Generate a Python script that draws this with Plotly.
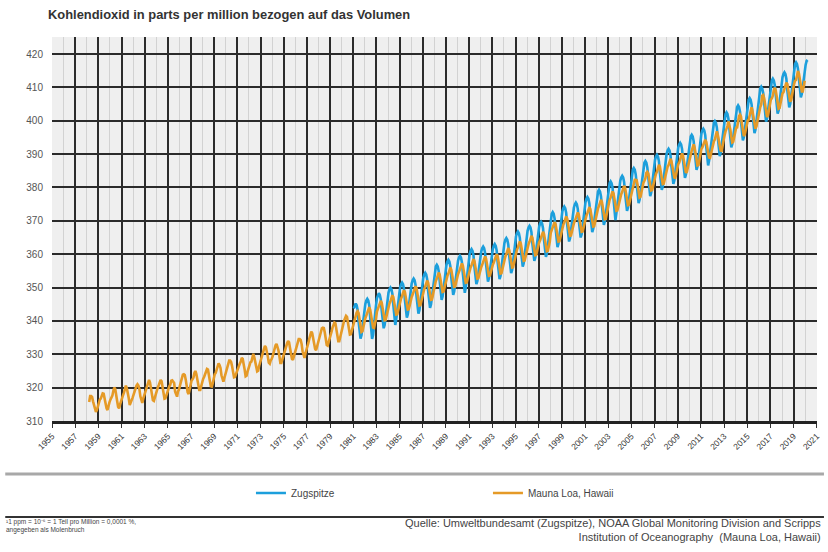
import plotly.graph_objects as go

# ---------------- data ----------------
x_tick_years = list(range(1955, 2022, 2))
y_ticks = list(range(310, 421, 10))

series_names = ["Zugspitze", "Mauna Loa, Hawaii"]

# Mauna Loa monthly means, ppm, first value = March 1958
mauna_loa_start = (1958, 3)
mauna_loa_ppm = [
    315.7, 317.5, 317.5, 317.2, 315.9, 314.9, 313.2, 312.7, 313.3, 314.7,
    315.6, 316.4, 316.7, 317.7, 318.3, 318.2, 316.5, 314.8, 313.8, 313.3, 314.8, 315.6,
    316.4, 317.0, 317.6, 319.0, 320.0, 319.6, 318.2, 315.9, 314.2, 313.8, 315.0, 316.2,
    316.9, 317.7, 318.5, 319.5, 320.6, 319.8, 318.6, 316.8, 314.8, 315.4, 316.1, 317.0,
    317.9, 318.6, 319.7, 320.6, 321.0, 320.6, 319.6, 317.4, 316.3, 315.4, 316.7, 317.7,
    318.7, 319.1, 319.9, 321.4, 322.3, 321.5, 319.7, 317.8, 316.2, 316.0, 317.1, 318.4,
    319.6, 320.0, 320.7, 321.8, 322.3, 321.9, 320.4, 318.7, 316.7, 316.8, 317.8, 318.7,
    319.4, 320.4, 320.9, 322.1, 322.2, 321.9, 321.4, 318.8, 317.8, 317.3, 318.9, 319.4,
    320.6, 321.6, 322.4, 323.9, 324.0, 323.8, 322.4, 320.4, 318.6, 318.1, 319.8, 321.1,
    322.1, 322.5, 323.0, 324.4, 325.0, 324.1, 322.6, 320.9, 319.3, 319.3, 320.7, 322.0,
    322.6, 323.2, 323.9, 325.0, 325.6, 325.4, 324.1, 322.0, 320.4, 320.3, 321.3, 322.8,
    324.0, 324.4, 325.6, 326.7, 327.3, 326.8, 325.9, 323.7, 322.4, 321.8, 322.9, 324.1,
    325.0, 326.0, 326.9, 328.1, 328.1, 327.7, 326.4, 324.7, 323.1, 323.2, 324.0, 325.1,
    326.2, 326.7, 327.2, 327.8, 328.9, 328.6, 327.4, 325.4, 323.4, 323.6, 324.8, 326.0,
    326.8, 327.6, 327.8, 329.7, 330.1, 329.1, 328.1, 326.3, 324.9, 325.1, 326.5, 327.6,
    328.5, 329.6, 330.3, 331.5, 332.5, 332.1, 330.9, 329.3, 327.5, 327.2, 328.2, 328.6,
    329.4, 330.7, 331.5, 332.7, 333.1, 332.3, 331.2, 329.4, 327.4, 327.4, 328.5, 329.6,
    330.4, 331.4, 332.0, 333.3, 334.0, 333.6, 331.9, 330.1, 328.6, 328.3, 329.5, 330.8,
    331.8, 332.6, 333.5, 334.6, 334.6, 334.3, 333.1, 330.9, 329.3, 328.9, 330.3, 331.7,
    332.9, 333.4, 334.7, 336.1, 336.8, 336.3, 334.9, 332.8, 331.6, 331.2, 332.4, 333.9,
    335.0, 335.4, 336.6, 337.8, 338.0, 337.9, 336.5, 334.7, 332.8, 332.6, 333.9, 335.0,
    336.2, 336.8, 338.0, 338.9, 339.5, 339.3, 337.7, 336.1, 333.9, 333.9, 335.3, 336.7,
    338.0, 338.4, 340.1, 340.8, 341.5, 341.2, 339.6, 337.6, 335.9, 336.0, 337.1, 338.2,
    339.2, 340.5, 341.4, 342.5, 342.9, 342.3, 340.5, 338.4, 336.7, 336.9, 338.4, 339.6,
    340.8, 341.6, 342.7, 343.6, 344.1, 343.4, 342.1, 339.8, 338.0, 337.9, 339.3, 340.5,
    342.8, 343.5, 344.2, 345.4, 346.0, 345.4, 344.0, 341.9, 340.2, 340.3, 341.7, 343.0,
    344.5, 345.2, 345.9, 347.1, 347.7, 347.1, 345.7, 343.6, 341.9, 342.0, 343.4, 344.7,
    346.0, 346.7, 347.4, 348.6, 349.2, 348.6, 347.2, 345.1, 343.4, 343.5, 344.9, 346.2,
    347.2, 347.9, 348.6, 349.8, 350.4, 349.8, 348.4, 346.3, 344.6, 344.7, 346.1, 347.4,
    348.9, 349.6, 350.3, 351.5, 352.1, 351.5, 350.1, 348.0, 346.3, 346.4, 347.8, 349.1,
    351.3, 352.0, 352.7, 353.9, 354.5, 353.9, 352.5, 350.4, 348.7, 348.8, 350.2, 351.5,
    352.8, 353.5, 354.2, 355.4, 356.0, 355.4, 354.0, 351.9, 350.2, 350.3, 351.7, 353.0,
    354.0, 354.7, 355.4, 356.6, 357.2, 356.6, 355.2, 353.1, 351.4, 351.5, 352.9, 354.2,
    355.3, 356.0, 356.7, 357.9, 358.5, 357.9, 356.5, 354.4, 352.7, 352.8, 354.2, 355.5,
    356.1, 356.8, 357.5, 358.7, 359.3, 358.7, 357.3, 355.2, 353.5, 353.6, 355.0, 356.3,
    356.8, 357.5, 358.2, 359.4, 360.0, 359.4, 358.0, 355.9, 354.2, 354.3, 355.7, 357.0,
    358.6, 359.3, 360.0, 361.2, 361.8, 361.2, 359.8, 357.7, 356.0, 356.1, 357.5, 358.8,
    360.6, 361.3, 362.0, 363.2, 363.8, 363.2, 361.8, 359.7, 358.0, 358.1, 359.5, 360.8,
    362.3, 363.0, 363.7, 364.9, 365.5, 364.9, 363.5, 361.4, 359.7, 359.8, 361.2, 362.5,
    363.5, 364.2, 364.9, 366.1, 366.7, 366.1, 364.7, 362.6, 360.9, 361.0, 362.4, 363.7,
    366.4, 367.1, 367.8, 369.0, 369.6, 369.0, 367.6, 365.5, 363.8, 363.9, 365.3, 366.6,
    368.1, 368.8, 369.5, 370.7, 371.3, 370.7, 369.3, 367.2, 365.5, 365.6, 367.0, 368.3,
    369.3, 370.0, 370.7, 371.9, 372.5, 371.9, 370.5, 368.4, 366.7, 366.8, 368.2, 369.5,
    370.9, 371.6, 372.3, 373.5, 374.1, 373.5, 372.1, 370.0, 368.3, 368.4, 369.8, 371.1,
    373.1, 373.8, 374.5, 375.7, 376.3, 375.7, 374.3, 372.2, 370.5, 370.6, 372.0, 373.3,
    375.6, 376.3, 377.0, 378.2, 378.8, 378.2, 376.8, 374.7, 373.0, 373.1, 374.5, 375.8,
    377.3, 378.0, 378.7, 379.9, 380.5, 379.9, 378.5, 376.4, 374.7, 374.8, 376.2, 377.5,
    378.5, 379.8, 380.8, 382.3, 382.3, 382.2, 380.7, 378.8, 377.0, 377.2, 378.7, 380.1,
    381.4, 382.0, 382.7, 384.4, 384.7, 384.2, 382.4, 380.4, 379.1, 379.2, 380.6, 382.1,
    383.1, 384.1, 384.7, 386.3, 386.8, 386.3, 384.8, 382.5, 381.0, 381.1, 382.4, 383.7,
    385.4, 386.2, 386.7, 388.1, 388.6, 387.9, 386.4, 384.4, 383.0, 382.9, 384.3, 385.5,
    386.9, 387.4, 388.5, 389.6, 390.2, 389.5, 388.0, 386.0, 384.4, 384.7, 386.2, 387.7,
    389.0, 389.8, 391.0, 392.4, 392.9, 392.0, 390.3, 388.6, 386.6, 386.7, 388.5, 389.7,
    391.5, 392.0, 392.8, 393.4, 394.3, 393.7, 392.4, 390.1, 389.0, 388.9, 390.2, 391.7,
    393.1, 393.9, 394.4, 396.2, 396.8, 395.8, 394.4, 392.4, 391.1, 391.0, 392.8, 394.3,
    395.6, 396.8, 397.4, 398.4, 399.8, 398.6, 397.3, 395.2, 393.5, 393.7, 395.2, 396.8,
    397.9, 398.0, 399.8, 401.4, 401.8, 401.3, 399.1, 397.0, 395.4, 396.0, 397.3, 398.9,
    400.0, 400.3, 401.5, 403.3, 404.0, 402.8, 401.3, 398.9, 397.6, 398.3, 400.2, 401.9,
    402.6, 404.1, 404.9, 407.5, 407.7, 406.8, 404.4, 402.3, 401.1, 401.6, 403.6, 404.5,
    406.4, 406.7, 407.5, 409.2, 409.9, 409.1, 407.3, 405.3, 403.6, 403.8, 405.3, 407.0,
    408.2, 408.5, 409.6, 410.5, 411.4, 411.0, 408.9, 407.2, 405.7, 406.2, 408.2, 409.3,
    411.0, 412.0, 412.2, 413.5, 414.9, 414.2, 412.0, 410.2, 408.8, 408.8, 410.5, 412.0,
]

# Zugspitze monthly means, ppm, first value = January 1981
zugspitze_start = (1981, 1)
zugspitze_ppm = [
    343.7, 344.7, 345.2, 344.7, 343.3, 339.9, 336.7, 334.7, 335.7, 338.3, 340.8, 343.1,
    345.1, 346.1, 346.6, 346.1, 344.7, 341.3, 338.1, 334.6, 335.8, 339.7, 342.2, 344.5,
    346.8, 347.8, 348.3, 347.8, 346.4, 343.0, 339.8, 337.8, 338.8, 341.4, 343.9, 346.2,
    348.5, 349.5, 350.0, 349.5, 348.1, 344.7, 341.5, 338.8, 340.5, 343.1, 345.6, 347.9,
    350.0, 351.0, 351.5, 351.0, 349.6, 346.2, 343.0, 341.0, 342.0, 344.6, 347.1, 349.4,
    351.2, 352.2, 352.7, 352.2, 350.8, 347.4, 344.2, 342.2, 343.2, 345.8, 348.3, 350.6,
    352.9, 353.9, 354.4, 353.9, 352.5, 349.1, 345.9, 343.9, 344.9, 347.5, 350.0, 352.3,
    355.3, 356.3, 356.8, 356.3, 354.9, 351.5, 348.3, 346.3, 347.3, 349.9, 352.4, 354.7,
    356.8, 357.8, 358.3, 357.8, 356.4, 353.0, 349.8, 347.8, 348.8, 351.4, 353.9, 356.2,
    358.0, 359.0, 359.5, 359.0, 357.6, 354.2, 351.0, 348.4, 350.0, 352.6, 355.1, 357.4,
    360.0, 361.0, 361.5, 361.0, 359.6, 356.2, 353.0, 351.0, 352.0, 354.6, 357.1, 359.4,
    360.8, 361.8, 362.3, 361.8, 360.4, 357.0, 353.8, 351.8, 352.8, 355.4, 357.9, 360.2,
    361.5, 362.5, 363.0, 362.5, 361.1, 357.7, 354.5, 352.5, 353.5, 356.1, 358.6, 360.9,
    363.3, 364.3, 364.8, 364.3, 362.9, 359.5, 356.3, 354.3, 355.3, 357.9, 360.4, 362.7,
    365.3, 366.3, 366.8, 366.3, 364.9, 361.5, 358.3, 356.3, 357.3, 359.9, 362.4, 364.7,
    367.0, 368.0, 368.5, 368.0, 366.6, 363.2, 360.0, 358.0, 359.0, 361.6, 364.1, 366.4,
    368.2, 369.2, 369.7, 369.2, 367.8, 364.4, 361.2, 359.2, 360.2, 362.8, 365.3, 367.6,
    371.1, 372.1, 372.6, 372.1, 370.7, 367.3, 364.1, 362.1, 363.1, 365.7, 368.2, 370.5,
    372.8, 373.8, 374.3, 373.8, 372.4, 369.0, 365.8, 363.8, 364.8, 367.4, 369.9, 372.2,
    374.0, 375.0, 375.5, 375.0, 373.6, 370.2, 367.0, 365.0, 366.0, 368.6, 371.1, 373.4,
    375.6, 376.6, 377.1, 376.6, 375.2, 371.8, 368.6, 366.6, 367.6, 370.2, 372.7, 375.0,
    377.8, 378.8, 379.3, 378.8, 377.4, 374.0, 370.8, 368.8, 369.8, 372.4, 374.9, 377.2,
    380.3, 381.3, 381.8, 381.3, 379.9, 376.5, 373.3, 370.2, 372.3, 374.9, 377.4, 379.7,
    382.0, 383.0, 383.5, 383.0, 381.6, 378.2, 375.0, 373.0, 374.0, 376.6, 379.1, 381.4,
    384.3, 385.3, 385.8, 385.3, 383.9, 380.5, 377.3, 375.3, 376.3, 378.9, 381.4, 383.7,
    386.4, 387.4, 387.9, 387.4, 386.0, 382.6, 379.4, 377.4, 378.4, 381.0, 383.5, 385.8,
    388.3, 389.3, 389.8, 389.3, 387.9, 384.5, 381.3, 379.3, 380.3, 382.9, 385.4, 387.7,
    390.1, 391.1, 391.6, 391.1, 389.7, 386.3, 383.1, 381.1, 382.1, 384.7, 387.2, 389.5,
    391.9, 392.9, 393.4, 392.9, 391.5, 388.1, 384.9, 382.9, 383.9, 386.5, 389.0, 391.3,
    394.3, 395.3, 395.8, 395.3, 393.9, 390.5, 387.3, 385.3, 386.3, 388.9, 391.4, 393.7,
    396.1, 397.1, 397.6, 397.1, 395.7, 392.3, 389.1, 386.6, 388.1, 390.7, 393.2, 395.5,
    398.4, 399.4, 399.9, 399.4, 398.0, 394.6, 391.4, 389.4, 390.4, 393.0, 395.5, 397.8,
    401.0, 402.0, 402.5, 402.0, 400.6, 397.2, 394.0, 392.0, 393.0, 395.6, 398.1, 400.4,
    403.1, 404.1, 404.6, 404.1, 402.7, 399.3, 396.1, 394.1, 395.1, 397.7, 400.2, 402.5,
    405.3, 406.3, 406.8, 406.3, 404.9, 401.5, 397.5, 396.3, 397.3, 399.9, 402.4, 404.7,
    408.7, 409.7, 410.2, 409.7, 408.3, 404.9, 401.7, 399.7, 400.7, 403.3, 405.8, 408.1,
    411.1, 412.1, 412.6, 412.1, 410.7, 407.3, 404.1, 402.1, 403.1, 405.7, 408.2, 410.5,
    413.0, 414.0, 414.5, 414.0, 412.6, 409.2, 406.0, 404.0, 405.0, 407.6, 410.1, 412.4,
    416.0, 417.0, 417.5, 417.0, 415.6, 412.2, 409.0, 407.0, 408.0, 410.6, 413.1, 415.4,
    416.8, 417.9, 418.2,
]


def month_positions(start, n):
    y0, m0 = start
    return [y0 + (m0 - 1 + i + 0.5) / 12 for i in range(n)]


# ---------------- layout helpers ----------------
W, H = 828, 552
PL, PR, PT, PB = 52, 821, 37, 421  # plot area in pixels


def px_x(px):
    return (px - PL) / (PR - PL)


def px_y(py):
    return (PB - py) / (PB - PT)


FONT = "Liberation Sans, Arial, sans-serif"
BLUE = "#1c9fdc"
ORANGE = "#e59a27"

fig = go.Figure()
fig.add_trace(go.Scatter(
    x=month_positions(zugspitze_start, len(zugspitze_ppm)), y=zugspitze_ppm,
    mode="lines", name=series_names[0], line=dict(color=BLUE, width=2.6)))
fig.add_trace(go.Scatter(
    x=month_positions(mauna_loa_start, len(mauna_loa_ppm)), y=mauna_loa_ppm,
    mode="lines", name=series_names[1], line=dict(color=ORANGE, width=2.6)))

fig.update_layout(
    width=W, height=H,
    margin=dict(l=PL, r=W - PR, t=PT, b=H - PB, pad=0),
    paper_bgcolor="white", plot_bgcolor="#efefef",
    font=dict(family=FONT, color="#444"),
    showlegend=True,
    legend=dict(orientation="h", x=px_x(252), y=px_y(493), xanchor="left", yanchor="middle",
                entrywidth=192, entrywidthmode="pixels", traceorder="normal",
                font=dict(size=10, color="#444"), bgcolor="rgba(0,0,0,0)"),
    xaxis=dict(range=[1955, 2021.02], tickmode="array", tickvals=x_tick_years,
               ticktext=[str(y) for y in x_tick_years], tickangle=-45,
               tickfont=dict(size=8.5, color="#333"),
               showgrid=True, gridcolor="#2b2b2b", gridwidth=1.6,
               minor=dict(tickmode="linear", tick0=1955, dtick=1, showgrid=True,
                          gridcolor="#d2d2d2", gridwidth=1),
               showline=True, linecolor="#222", linewidth=3,
               ticks="outside", ticklen=4, tickcolor="#333", zeroline=False),
    yaxis=dict(range=[310, 425.1], tickmode="array", tickvals=y_ticks,
               ticktext=[str(v) for v in y_ticks],
               tickfont=dict(size=10, color="#555"),
               showgrid=True, gridcolor="#2b2b2b", gridwidth=1.6,
               showline=False, zeroline=False, ticks="", ticklabelstandoff=8),
)

# title
fig.add_annotation(x=px_x(46), y=px_y(15), xref="paper", yref="paper",
                   xanchor="left", yanchor="middle", showarrow=False,
                   text="<b>Kohlendioxid in parts per million bezogen auf das Volumen</b>",
                   font=dict(size=12.9, color="#333", family=FONT))

# separator lines
fig.add_shape(type="line", xref="paper", yref="paper", x0=px_x(5), x1=px_x(828),
              y0=px_y(474), y1=px_y(474), line=dict(color="#a8a8a8", width=3))
fig.add_shape(type="line", xref="paper", yref="paper", x0=px_x(5), x1=px_x(828),
              y0=px_y(517), y1=px_y(517), line=dict(color="#333", width=2))

# footnote
fig.add_annotation(x=px_x(4), y=px_y(526), xref="paper", yref="paper",
                   xanchor="left", yanchor="middle", showarrow=False, align="left",
                   text="¹1 ppm = 10⁻⁶ = 1 Teil pro Million = 0,0001 %,<br>angegeben als Molenbruch",
                   font=dict(size=6.5, color="#444", family=FONT))

# source
fig.add_annotation(x=px_x(827), y=px_y(530), xref="paper", yref="paper",
                   xanchor="right", yanchor="middle", showarrow=False, align="right",
                   text="Quelle: Umweltbundesamt (Zugspitze), NOAA Global Monitoring Division and Scripps<br>"
                        "Institution of Oceanography  (Mauna Loa, Hawaii)",
                   font=dict(size=11, color="#444", family=FONT))

fig.write_html("out.html", config={"displayModeBar": False},
               post_script="document.body.style.margin='0';")
